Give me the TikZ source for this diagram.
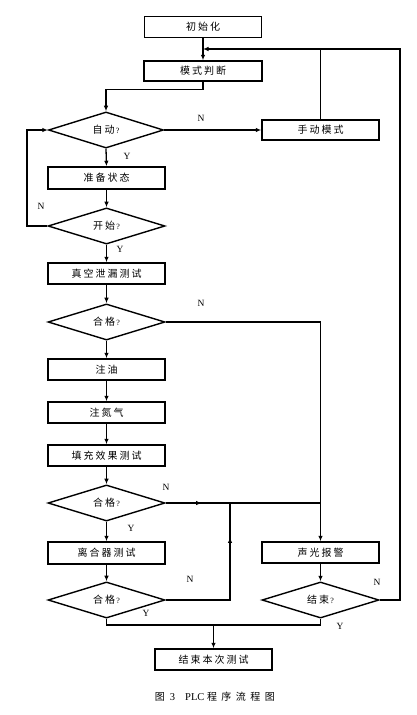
\documentclass[tikz,border=0pt]{standalone}
\usepackage{fontspec}
\setmainfont{Liberation Serif}
\newfontfamily\cjk[LetterSpace=20]{Noto Sans CJK SC}
\newfontfamily\cjkcap[LetterSpace=45]{Noto Sans CJK SC}
\usetikzlibrary{shapes.geometric,arrows.meta,decorations.markings}
\begin{document}
\begin{tikzpicture}[x=1pt,y=-1pt,
  line width=1.3pt,
  boxnode/.style={draw,line width=1.5pt,minimum width=117pt,minimum height=21pt,inner sep=0pt,font=\cjk\fontsize{10}{12}\selectfont},
  decnode/.style={draw,diamond,line width=1.4pt,minimum width=117pt,minimum height=32pt,inner sep=0pt,font=\cjk\fontsize{10}{12}\selectfont},
  arr/.style={-{Latex[length=5.5pt,width=4.5pt]}},
  yn/.style={font=\fontsize{9.5}{11}\selectfont,inner sep=0pt},
  midarr/.style={postaction={decorate},decoration={markings,mark=at position #1 with {\arrow{Latex[length=5.5pt,width=4.5pt]}}}}
]
\useasboundingbox (0,0) rectangle (417,715);
\newcommand{\qm}{{\rmfamily\fontsize{8}{10}\selectfont\,?}}
% boxes
\node[boxnode] (init) at (203,27) {初始化};
\node[boxnode,minimum width=118pt,minimum height=20pt] (mode) at (203,71) {模式判断};
\node[boxnode,minimum height=20pt] (manual) at (320.5,130) {手动模式};
\node[boxnode,minimum height=22pt] (ready) at (106.5,178) {准备状态};
\node[boxnode] (vac) at (106.5,273.5) {真空泄漏测试};
\node[boxnode] (oil) at (106.5,369.5) {注油};
\node[boxnode] (ntwo) at (106.5,412.5) {注氮气};
\node[boxnode] (fill) at (106.5,455.5) {填充效果测试};
\node[boxnode,minimum height=22pt] (clutch) at (106.5,553) {离合器测试};
\node[boxnode] (alarm) at (320.5,552.5) {声光报警};
\node[boxnode] (endt) at (213.5,659.5) {结束本次测试};
% diamonds
\node[decnode,minimum width=115pt,minimum height=31pt] (auto) at (106,130) {自动\qm};
\node[decnode] (start) at (106.5,226) {开始\qm};
\node[decnode] (qa) at (106.5,322) {合格\qm};
\node[decnode] (qb) at (106.5,503) {合格\qm};
\node[decnode] (qc) at (106.5,600) {合格\qm};
\node[decnode] (endq) at (320.5,600) {结束\qm};
% helper coordinates
\coordinate (mtop) at (203,49);
\coordinate (rtop) at (400,49);
\coordinate (jn) at (230,503);
\coordinate (bot) at (213.5,625);
% connectors
\draw[arr] (init.south) -- (mode.north);
\draw[arr] (manual.north) |- (mtop);
\draw (endq.east) -| (rtop) -- (manual.north |- rtop);
\draw[arr] (mode.south) -- ++(0,8) -| (auto.north);
\draw[arr] (auto.east) -- (manual.west);
\draw[arr] (auto.south) -- (ready.north);
\draw[arr] (ready.south) -- (start.north);
\draw[arr] (start.west) -- (27,226) |- (auto.west);
\draw[arr] (start.south) -- (vac.north);
\draw[arr] (vac.south) -- (qa.north);
\draw[arr] (qa.east) -| (alarm.north);
\draw[arr] (qa.south) -- (oil.north);
\draw[arr] (oil.south) -- (ntwo.north);
\draw[arr] (ntwo.south) -- (fill.north);
\draw[arr] (fill.south) -- (qb.north);
\draw[midarr=36pt] (qb.east) -- (jn);
\draw (jn) -- (alarm.north |- jn);
\draw[arr] (qb.south) -- (clutch.north);
\draw[arr] (clutch.south) -- (qc.north);
\draw[midarr=127pt] (qc.east) -| (jn);
\draw (qc.south) |- (bot) -| (endq.south);
\draw[arr] (bot) -- (endt.north);
\draw[arr] (alarm.south) -- (endq.north);
% labels
\node[yn] (l1) at (201,118) {N};
\node[yn] (l2) at (127,156) {Y};
\node[yn] (l3) at (41,206) {N};
\node[yn] (l4) at (120,249) {Y};
\node[yn] (l5) at (201,303) {N};
\node[yn] (l6) at (166,487) {N};
\node[yn] (l7) at (131,528) {Y};
\node[yn] (l8) at (190,579) {N};
\node[yn] (l9) at (146,613) {Y};
\node[yn] (l10) at (377,582) {N};
\node[yn] (l11) at (340,626) {Y};
% caption
\node[inner sep=0pt] (cap) at (215,697) {{\cjkcap\fontsize{10}{12}\selectfont 图}\ \ {\fontsize{10.5}{12}\selectfont 3}\quad{\fontsize{10.5}{12}\selectfont PLC}\ {\cjkcap\fontsize{10}{12}\selectfont 程序流程图}};
\end{tikzpicture}
\end{document}
